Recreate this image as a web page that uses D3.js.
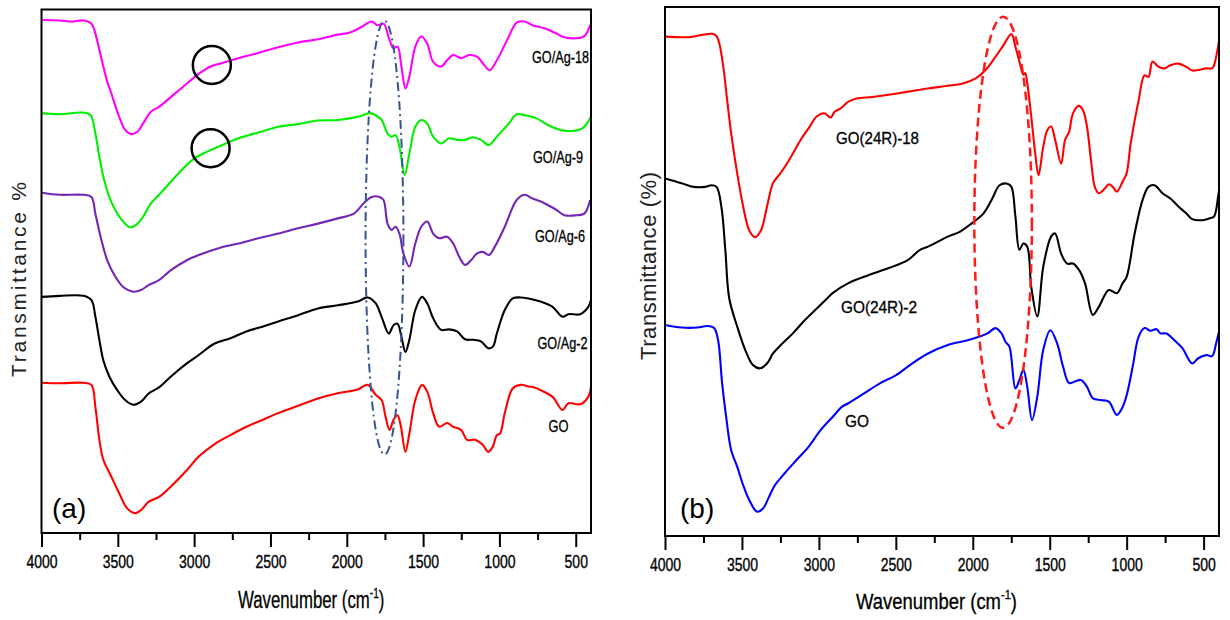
<!DOCTYPE html>
<html><head><meta charset="utf-8">
<script src="https://cdn.jsdelivr.net/npm/d3@7"></script>
<style>body{margin:0;background:#fff;} svg{display:block;font-family:"Liberation Sans",Arial,sans-serif;}</style>
</head><body><svg id="chart" width="1230" height="620"></svg>
<script>
// ---------- data ----------
const xTicksMajor = [4000,3500,3000,2500,2000,1500,1000,500];
const xTicksMinor = [3750,3250,2750,2250,1750,1250,750];
const xDomain = [4000, 400];
const yDomain = [0, 100];

// Panel (a) spectra: [wavenumber, transmittance (a.u.)]
const goAg18 = [[4000,98.0],[3881,97.9],[3803,97.7],[3725,97.9],[3673,97.3],[3647,95.4],[3621,92.3],[3595,89.1],[3569,86.2],[3543,84.0],[3491,79.5],[3452,77.0],[3413,76.2],[3374,76.6],[3335,78.2],[3282,80.5],[3230,81.4],[3152,83.3],[3074,85.2],[2970,87.7],[2892,89.1],[2814,89.8],[2710,90.7],[2579,91.7],[2449,92.8],[2319,93.7],[2189,94.3],[2059,95.2],[1980,95.6],[1902,96.7],[1837,97.7],[1798,97.0],[1759,97.3],[1720,94.2],[1694,92.6],[1668,92.9],[1642,89.1],[1616,84.9],[1590,87.2],[1551,92.9],[1512,94.9],[1473,93.5],[1434,90.0],[1382,89.1],[1343,90.3],[1303,91.3],[1251,90.7],[1199,91.3],[1147,91.0],[1108,89.7],[1064,88.4],[1017,90.3],[939,94.8],[887,97.5],[835,97.7],[783,97.0],[705,96.4],[626,95.4],[574,94.7],[496,94.5],[444,94.9],[405,97.0]];
const goAg9 = [[4000,80.2],[3881,80.0],[3725,80.3],[3678,79.8],[3647,76.3],[3621,71.9],[3595,68.1],[3556,64.2],[3517,61.7],[3465,59.5],[3418,58.4],[3374,59.0],[3335,60.4],[3282,63.0],[3230,64.6],[3152,67.1],[3074,69.6],[2996,71.6],[2918,72.8],[2840,73.8],[2710,75.4],[2579,76.5],[2449,77.6],[2319,78.1],[2189,78.8],[2059,78.9],[1928,79.5],[1850,80.2],[1811,79.8],[1772,78.9],[1733,76.3],[1707,75.7],[1681,76.0],[1655,73.8],[1621,68.4],[1590,72.5],[1551,77.6],[1512,78.9],[1473,78.2],[1434,75.7],[1382,74.4],[1330,75.4],[1277,75.1],[1225,75.1],[1173,75.6],[1121,75.1],[1069,74.1],[1017,75.7],[939,78.2],[887,80.0],[835,79.8],[757,79.2],[679,77.9],[600,77.0],[522,76.8],[457,77.3],[418,78.6],[400,79.6]];
const goAg6 = [[4000,65.0],[3881,64.6],[3725,64.6],[3673,64.2],[3647,61.0],[3608,56.0],[3569,52.1],[3517,49.0],[3465,47.0],[3400,46.1],[3348,46.4],[3296,47.4],[3230,48.3],[3152,50.2],[3048,52.1],[2970,53.1],[2840,54.4],[2710,55.3],[2579,56.3],[2449,57.2],[2319,58.2],[2189,59.1],[2059,60.1],[1954,61.0],[1889,63.0],[1837,64.2],[1785,64.2],[1759,63.6],[1733,59.1],[1707,57.9],[1681,58.5],[1655,57.2],[1629,53.4],[1590,50.9],[1551,55.3],[1512,58.5],[1473,59.5],[1434,57.2],[1395,56.3],[1343,56.6],[1303,55.3],[1264,52.8],[1225,51.2],[1186,52.1],[1147,53.4],[1108,53.7],[1069,53.1],[1030,54.7],[965,58.5],[887,63.6],[835,64.6],[783,63.9],[705,63.0],[626,61.7],[574,60.7],[496,60.7],[444,61.0],[405,63.6]];
const goAg2 = [[4000,45.1],[3881,45.3],[3725,45.3],[3673,44.5],[3647,41.3],[3621,36.9],[3595,33.0],[3556,29.9],[3504,27.3],[3452,25.4],[3400,24.5],[3348,25.1],[3296,26.7],[3230,27.8],[3152,29.9],[3048,32.4],[2970,34.0],[2866,36.2],[2762,37.2],[2658,38.5],[2553,39.4],[2449,40.4],[2319,41.6],[2189,42.9],[2059,43.5],[1928,44.2],[1863,45.0],[1811,43.9],[1772,41.3],[1725,38.1],[1694,39.7],[1668,40.0],[1642,37.5],[1616,34.6],[1590,36.9],[1551,42.6],[1507,45.1],[1473,43.9],[1434,41.0],[1382,38.8],[1330,38.9],[1277,38.5],[1225,37.0],[1173,36.9],[1121,36.6],[1074,35.3],[1043,35.6],[1017,38.1],[965,42.6],[913,44.8],[861,45.0],[809,44.8],[731,44.2],[652,43.2],[587,41.3],[548,41.8],[470,41.8],[418,43.2],[400,44.5]];
const goA = [[4000,28.7],[3881,28.6],[3725,28.7],[3673,28.3],[3647,24.1],[3621,17.8],[3595,14.0],[3543,10.8],[3491,7.6],[3439,4.7],[3387,3.8],[3348,4.4],[3296,6.0],[3230,6.9],[3152,8.9],[3048,12.0],[2970,14.6],[2866,17.0],[2762,18.7],[2658,20.3],[2553,21.6],[2449,22.9],[2319,24.3],[2189,25.7],[2059,26.7],[1928,27.4],[1863,28.3],[1811,26.4],[1772,25.4],[1746,22.2],[1720,19.7],[1694,21.6],[1668,22.5],[1647,20.6],[1616,15.5],[1590,19.0],[1551,25.4],[1507,28.3],[1473,27.0],[1434,22.9],[1395,20.3],[1343,21.0],[1303,20.3],[1251,19.7],[1212,17.8],[1160,17.8],[1108,16.8],[1074,15.5],[1043,16.5],[1017,18.7],[996,19.0],[965,22.9],[913,27.6],[861,28.3],[809,28.0],[770,27.8],[731,27.3],[652,26.0],[587,23.5],[548,24.8],[470,24.6],[418,26.0],[400,28.0]];

// Panel (b) spectra
const go24R18 = [[4000,94.4],[3841,94.3],[3763,94.7],[3686,94.9],[3665,94.5],[3647,93.1],[3621,88.7],[3596,82.4],[3570,76.1],[3531,68.6],[3492,62.3],[3453,57.8],[3415,56.5],[3376,57.8],[3337,62.3],[3298,66.7],[3260,68.2],[3221,69.8],[3169,72.3],[3118,74.9],[3066,77.1],[3014,79.3],[2963,79.9],[2924,79.1],[2898,80.2],[2860,80.8],[2808,82.1],[2756,82.7],[2653,83.0],[2549,83.4],[2420,84.0],[2291,84.6],[2162,85.1],[2059,85.6],[1981,86.5],[1917,88.1],[1852,90.6],[1800,92.8],[1749,94.9],[1723,92.5],[1697,89.7],[1671,87.2],[1659,87.5],[1646,85.6],[1620,79.3],[1594,72.3],[1573,68.2],[1542,73.6],[1516,76.7],[1491,77.4],[1465,74.9],[1426,70.4],[1400,74.9],[1374,76.4],[1349,79.9],[1310,81.3],[1284,80.5],[1258,77.4],[1232,71.1],[1207,66.0],[1181,64.8],[1142,65.7],[1116,66.5],[1090,66.0],[1064,65.1],[1026,67.0],[1000,68.6],[974,74.2],[922,82.4],[884,87.1],[858,86.8],[832,89.7],[793,88.7],[754,88.4],[716,89.0],[664,89.3],[613,88.7],[574,88.0],[535,88.1],[483,88.4],[445,88.4],[432,89.0],[406,92.5],[400,93.6]];
const go24R2 = [[4000,67.6],[3892,66.7],[3815,66.0],[3737,66.0],[3699,66.3],[3665,66.0],[3634,62.3],[3608,54.1],[3583,45.0],[3531,39.6],[3479,35.2],[3428,32.3],[3381,31.7],[3337,32.6],[3298,34.5],[3247,36.1],[3169,38.3],[3092,40.8],[3014,43.0],[2950,44.8],[2911,45.9],[2808,47.8],[2679,49.3],[2550,50.6],[2420,52.2],[2343,54.1],[2291,54.7],[2162,56.6],[2085,57.5],[2007,59.1],[1930,61.0],[1878,63.5],[1826,66.3],[1775,66.6],[1749,66.0],[1723,60.4],[1697,54.1],[1671,55.3],[1646,54.7],[1620,47.1],[1581,41.5],[1542,50.9],[1491,56.6],[1465,57.2],[1426,53.4],[1387,51.5],[1349,51.5],[1310,50.3],[1271,47.8],[1220,41.8],[1181,43.3],[1116,46.5],[1064,45.9],[1026,47.8],[1000,49.0],[948,57.2],[897,63.5],[858,66.0],[819,66.3],[767,64.8],[716,63.8],[664,62.3],[613,61.0],[574,59.9],[509,59.7],[457,60.1],[432,60.4],[406,64.1],[400,65.3]];
const goB = [[4000,39.9],[3892,39.4],[3789,39.4],[3725,39.7],[3681,39.3],[3655,37.0],[3629,28.9],[3603,22.6],[3570,16.2],[3531,13.1],[3492,9.6],[3453,6.8],[3402,4.6],[3363,5.2],[3324,7.4],[3286,9.6],[3221,11.9],[3144,14.4],[3066,16.9],[2989,20.0],[2911,22.5],[2847,24.5],[2808,25.1],[2704,27.0],[2601,28.9],[2498,30.4],[2395,32.6],[2291,34.5],[2162,36.1],[2033,37.0],[1955,37.7],[1904,38.3],[1852,39.3],[1813,38.3],[1787,36.7],[1762,35.8],[1723,27.9],[1697,29.5],[1671,31.4],[1646,28.2],[1615,21.9],[1581,26.3],[1542,35.2],[1496,38.9],[1452,36.4],[1413,32.0],[1374,28.9],[1336,29.2],[1297,29.5],[1258,28.2],[1219,26.0],[1168,25.7],[1116,25.4],[1064,22.9],[1026,24.4],[1000,26.6],[961,32.0],[922,37.7],[884,39.3],[845,38.8],[806,39.1],[780,38.3],[742,38.3],[690,37.0],[638,35.5],[574,32.6],[535,33.6],[483,34.2],[445,34.0],[419,36.4],[400,38.6]];

const seriesA = [
  {name:"GO/Ag-18", color:"#ff00ff", data:goAg18, label:[532,62.5,57]},
  {name:"GO/Ag-9",  color:"#00f000", data:goAg9,  label:[533,163,50]},
  {name:"GO/Ag-6",  color:"#7326b5", data:goAg6,  label:[535,241.5,50]},
  {name:"GO/Ag-2",  color:"#000000", data:goAg2,  label:[537.5,349,50]},
  {name:"GO",       color:"#ff0000", data:goA,    label:[548.5,432,20]}
];
const seriesB = [
  {name:"GO(24R)-18", color:"#ff0000", data:go24R18, label:[836,144,83]},
  {name:"GO(24R)-2",  color:"#000000", data:go24R2,  label:[841,312.5,76]},
  {name:"GO",         color:"#0000ff", data:goB,     label:[845,426.5,24]}
];
// annotations in data units
const circlesA = [[2884,89.4],[2892,73.5]];
const ellipseA = {wn:1753, v:56.4, dwn:124, dv:41.4};
const ellipseB = {wn:1803, v:59.3, dwn:187, dv:38.85};

// ---------- layout ----------
const svg = d3.select("#chart");
const panels = [
  {id:"a", left:41.5, right:591, top:9.5, bottom:533, series:seriesA, tag:"(a)", tagX:52,
   ytitle:"Transmittance %", ytX:26, ytY:279.5, ytLen:195, ytSize:21,
   xtX:238, xtY:608, xtScale:0.73, xtSize:23},
  {id:"b", left:665, right:1219, top:7, bottom:536, series:seriesB, tag:"(b)", tagX:680,
   ytitle:"Transmittance (%)", ytX:656, ytY:266, ytLen:188, ytSize:22,
   xtX:856, xtY:609, xtScale:0.84, xtSize:22}
];

panels.forEach(p => {
  const g = svg.append("g");
  const x = d3.scaleLinear().domain(xDomain).range([p.left, p.right]);
  const y = d3.scaleLinear().domain(yDomain).range([p.bottom, p.top]);
  p.x = x; p.y = y; p.g = g;

  const line = d3.line().x(d => x(d[0])).y(d => y(d[1])).curve(d3.curveCatmullRom.alpha(0.5));
  p.series.forEach(s => {
    g.append("path").attr("d", line(s.data)).attr("fill","none")
      .attr("stroke", s.color).attr("stroke-width", 2.1).attr("stroke-linejoin","round");
    g.append("text").attr("x", s.label[0]).attr("y", s.label[1])
      .attr("textLength", s.label[2]).attr("lengthAdjust","spacingAndGlyphs")
      .attr("font-size", 16).attr("fill","#000")
      .attr("stroke","#000").attr("stroke-width",0.3).text(s.name);
  });

  // frame
  g.append("rect").attr("x", p.left).attr("y", p.top)
    .attr("width", p.right - p.left).attr("height", p.bottom - p.top)
    .attr("fill","none").attr("stroke","#000").attr("stroke-width",2);

  // axes
  const ax = g.append("g").attr("transform", `translate(0,${p.bottom})`)
    .call(d3.axisBottom(x).tickValues(xTicksMajor).tickFormat(d3.format("d"))
      .tickSize(14).tickPadding(9).tickSizeOuter(0));
  ax.select(".domain").remove();
  ax.selectAll(".tick line").attr("stroke","#000").attr("stroke-width",2);
  ax.selectAll(".tick text").attr("font-size",17.5).attr("fill","#000")
    .attr("stroke","#000").attr("stroke-width",0.35)
    .attr("font-family","'Liberation Sans',Arial,sans-serif")
    .attr("transform","scale(0.8,1)");
  const axm = g.append("g").attr("transform", `translate(0,${p.bottom})`)
    .call(d3.axisBottom(x).tickValues(xTicksMinor).tickSize(7).tickFormat("").tickSizeOuter(0));
  axm.select(".domain").remove();
  axm.selectAll(".tick line").attr("stroke","#000").attr("stroke-width",2);

  // panel tag
  g.append("text").attr("x", p.tagX).attr("y", 518).attr("font-size", 28)
    .attr("fill","#000").text(p.tag);

  // y title
  g.append("text").attr("transform", `translate(${p.ytX},${p.ytY}) rotate(-90)`)
    .attr("text-anchor","middle").attr("font-size", p.ytSize).attr("fill","#222")
    .attr("textLength", p.ytLen).attr("lengthAdjust","spacing")
    .text(p.ytitle);

  // x title
  const xt = g.append("text").attr("transform", `translate(${p.xtX},${p.xtY}) scale(${p.xtScale},1)`)
    .attr("font-size", p.xtSize).attr("fill","#000").attr("stroke","#000").attr("stroke-width",0.3);
  xt.append("tspan").text("Wavenumber (cm");
  xt.append("tspan").attr("font-size", p.xtSize*0.6).attr("dy", -p.xtSize*0.45).text("-1");
  xt.append("tspan").attr("dy", p.xtSize*0.45).text(")");
});

// annotations panel a
const pa = panels[0], pb = panels[1];
pa.g.selectAll("circle.ann").data(circlesA).enter().append("circle")
  .attr("cx", d => pa.x(d[0])).attr("cy", d => pa.y(d[1])).attr("r", 19)
  .attr("fill","none").attr("stroke","#000").attr("stroke-width",2.5);

function drawEllipse(p, e, color, dash, w){
  p.g.append("ellipse")
    .attr("cx", p.x(e.wn)).attr("cy", p.y(e.v))
    .attr("rx", Math.abs(p.x(e.wn + e.dwn) - p.x(e.wn)))
    .attr("ry", Math.abs(p.y(e.v + e.dv) - p.y(e.v)))
    .attr("fill","none").attr("stroke", color).attr("stroke-width", w)
    .attr("stroke-dasharray", dash);
}
drawEllipse(pa, ellipseA, "#34558f", "9,4,2,4", 2);
drawEllipse(pb, ellipseB, "#ff1a1a", "9,5", 2.5);
</script></body></html>
